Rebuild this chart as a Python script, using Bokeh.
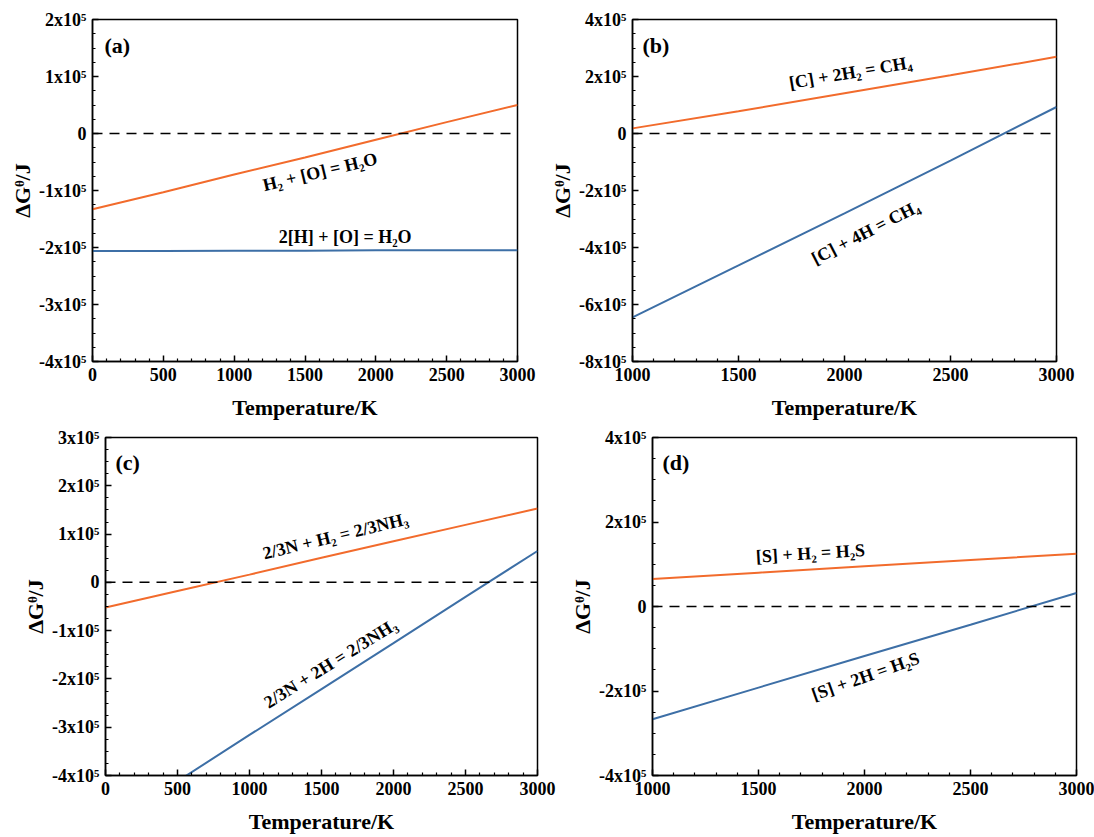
from bokeh.plotting import figure
from bokeh.layouts import column, row
from bokeh.models import FixedTicker, Span
from bokeh.core.properties import value
from bokeh.embed import file_html
from bokeh.resources import INLINE

FONT = "Liberation Serif"
ORANGE = "#F26B2C"
BLUE = "#3D6FA6"

# ---------------- data ----------------
# (a) H2O
temp_a = [0, 500, 1000, 1500, 2000, 2500, 3000]
dg_a_h2 = [-133000, -103000, -72000, -42000, -11000, 20000, 50000]
dg_a_h = [-206000, -206000, -205500, -205500, -205000, -205000, -205000]
# (b) CH4
temp_b = [1000, 1500, 2000, 2500, 3000]
dg_b_h2 = [18000, 78000, 141000, 204000, 269000]
dg_b_h = [-645000, -463000, -280000, -95000, 93000]
# (c) NH3
temp_c = [0, 500, 1000, 1500, 2000, 2500, 3000]
dg_c_h2 = [-52000, -18000, 16000, 51000, 85000, 119000, 153000]
dg_c_h = [-507000, -412000, -316000, -221000, -126000, -30000, 65000]
# (d) H2S
temp_d = [1000, 1500, 2000, 2500, 3000]
dg_d_h2 = [65000, 80000, 95000, 110000, 125000]
dg_d_h = [-267000, -192000, -117000, -43000, 32000]

labels_a = ["H₂ + [O] = H₂O", "2[H] + [O] = H₂O"]
labels_b = ["[C] + 2H₂ = CH₄", "[C] + 4H = CH₄"]
labels_c = ["2/3N + H₂ = 2/3NH₃", "2/3N + 2H = 2/3NH₃"]
labels_d = ["[S] + H₂ = H₂S", "[S] + 2H = H₂S"]

xticks_0 = [0, 500, 1000, 1500, 2000, 2500, 3000]
xticks_1000 = [1000, 1500, 2000, 2500, 3000]

yticks_a = [-400000, -300000, -200000, -100000, 0, 100000, 200000]
ylabels_a = ["-4x10⁵", "-3x10⁵", "-2x10⁵", "-1x10⁵", "0", "1x10⁵", "2x10⁵"]
yticks_b = [-800000, -600000, -400000, -200000, 0, 200000, 400000]
ylabels_b = ["-8x10⁵", "-6x10⁵", "-4x10⁵", "-2x10⁵", "0", "2x10⁵", "4x10⁵"]
yticks_c = [-400000, -300000, -200000, -100000, 0, 100000, 200000, 300000]
ylabels_c = ["-4x10⁵", "-3x10⁵", "-2x10⁵", "-1x10⁵", "0", "1x10⁵", "2x10⁵", "3x10⁵"]
yticks_d = [-400000, -200000, 0, 200000, 400000]
ylabels_d = ["-4x10⁵", "-2x10⁵", "0", "2x10⁵", "4x10⁵"]

X_TITLE = "Temperature/K"
Y_TITLE = "ΔGᶿ/J"


def minor_between(ticks, n):
    out = []
    for a, b in zip(ticks[:-1], ticks[1:]):
        step = (b - a) / n
        out += [a + step * k for k in range(1, n)]
    return out


def panel(tag, temps, orange, blue, xr, yr, xticks, yticks, ylabels,
          label_text, label_x, label_y, label_angle, tag_xy,
          width, height, bl, br, bt, bb):
    p = figure(width=width, height=height, x_range=xr, y_range=yr,
               output_backend="svg", toolbar_location=None,
               min_border_left=bl, min_border_right=br,
               min_border_top=bt, min_border_bottom=bb)
    p.grid.visible = False
    p.outline_line_color = "black"
    p.outline_line_width = 1.5
    p.outline_line_alpha = 1.0

    p.add_layout(Span(location=0, dimension="width", line_color="black",
                      line_width=1.5, line_dash="10 7"))
    p.line(temps, orange, line_color=ORANGE, line_width=2)
    p.line(temps, blue, line_color=BLUE, line_width=2)

    p.text(x=label_x, y=label_y, text=label_text, angle=label_angle,
           text_font=value(FONT), text_font_style="bold",
           text_font_size="18px", text_align="center",
           text_baseline="middle", text_color="black")
    p.text(x=[tag_xy[0]], y=[tag_xy[1]], text=[tag],
           text_font=value(FONT), text_font_style="bold",
           text_font_size="22px", text_align="left",
           text_baseline="middle", text_color="black")

    p.xaxis.ticker = FixedTicker(ticks=xticks, minor_ticks=minor_between(xticks, 5))
    p.yaxis.ticker = FixedTicker(ticks=yticks, minor_ticks=minor_between(yticks, 4))
    p.yaxis.major_label_overrides = {t: s for t, s in zip(yticks, ylabels)}
    p.xaxis.axis_label = X_TITLE
    p.yaxis.axis_label = Y_TITLE
    for ax in (p.xaxis, p.yaxis):
        ax.axis_line_width = 1.5
        ax.axis_line_color = "black"
        ax.major_tick_in = 6
        ax.major_tick_out = 0
        ax.minor_tick_in = 3
        ax.minor_tick_out = 0
        ax.major_tick_line_width = 1.5
        ax.minor_tick_line_width = 1.2
        ax.major_tick_line_color = "black"
        ax.minor_tick_line_color = "black"
        ax.major_label_text_font = FONT
        ax.major_label_text_font_style = "bold"
        ax.major_label_text_font_size = "18px"
        ax.major_label_text_color = "black"
        ax.axis_label_text_font = FONT
        ax.axis_label_text_font_style = "bold"
        ax.axis_label_text_font_size = "22px"
        ax.axis_label_text_color = "black"
        ax.major_label_standoff = 6
    p.xaxis.axis_label_standoff = 11
    p.yaxis.axis_label_standoff = 1
    return p


pa = panel("(a)", temp_a, dg_a_h2, dg_a_h, (0, 3000), (-400000, 200000),
           xticks_0, yticks_a, ylabels_a, labels_a,
           [1606, 1783], [-67000, -181000], [0.235, 0.0], (85, 155000),
           545, 423, 92, 28, 19, 62)
pb = panel("(b)", temp_b, dg_b_h2, dg_b_h, (1000, 3000), (-800000, 400000),
           xticks_1000, yticks_b, ylabels_b, labels_b,
           [2028, 2099], [214000, -347000], [0.17, 0.477], (1047, 309000),
           549, 423, 87, 38, 19, 62)
pc = panel("(c)", temp_c, dg_c_h2, dg_c_h, (0, 3000), (-400000, 300000),
           xticks_0, yticks_c, ylabels_c, labels_c,
           [1597, 1562], [96000, -168000], [0.24, 0.556], (69, 248000),
           560, 414, 105, 23, 14, 62)
pd_ = panel("(d)", temp_d, dg_d_h2, dg_d_h, (1000, 3000), (-400000, 400000),
            xticks_1000, yticks_d, ylabels_d, labels_d,
            [1745, 2005], [126000, -165000], [0.06, 0.34], (1047, 341000),
            534, 414, 92, 18, 14, 62)

layout = column(row(pa, pb), row(pc, pd_))
open("out.html", "w").write(file_html(layout, INLINE, "Gibbs free energy"))
